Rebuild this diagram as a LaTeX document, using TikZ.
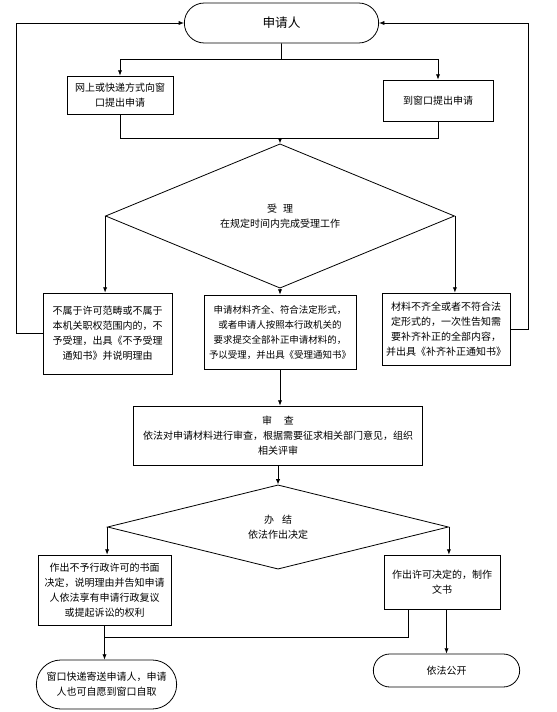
\documentclass[tikz,border=0pt]{standalone}
\usepackage{fontspec}
\newfontfamily\cjk{Noto Sans CJK SC}
\usetikzlibrary{shapes.geometric,shapes.misc,arrows.meta}

\begin{document}
\begin{tikzpicture}[x=0.75pt, y=-0.75pt, line width=0.6pt,
        box/.style={draw, align=center, inner sep=1pt,
                    font=\cjk\fontsize{7.5}{11.25}\selectfont},
        term/.style={draw, rounded rectangle, align=center, inner sep=1pt,
                     font=\cjk\fontsize{7.5}{11}\selectfont},
        dec/.style={draw, diamond, align=center, inner sep=0pt,
                    font=\cjk\fontsize{7.5}{11.25}\selectfont},
        arr/.style={-{Latex[length=4pt,width=3.2pt]}}
    ]
        \useasboundingbox (0,0) rectangle (556,712);
        \node[term, minimum width=147.75pt, minimum height=30pt,
              font=\cjk\fontsize{9.5}{11}\selectfont] (app) at (281.5,23) {申请人};
        \node[box, minimum width=79.5pt, minimum height=28.5pt] (web) at (120,95)
            {网上或快递方式向窗\\口提出申请};
        \node[box, minimum width=82.5pt, minimum height=30.75pt] (desk) at (438,100.5)
            {到窗口提出申请};
        \coordinate (split) at (281.5,59);
        \coordinate (join) at (280,138);
        \node[dec, minimum width=261.75pt, minimum height=54pt] (accept) at (280,216)
            {受\hspace{0.6em}理\\在规定时间内完成受理工作};
        \node[box, minimum width=96.75pt, minimum height=60.75pt] (refuse) at (107.5,333.5)
            {不属于许可范畴或不属于\\本机关职权范围内的，不\\予受理，出具《不予受理\\通知书》并说明理由};
        \node[box, minimum width=114pt, minimum height=55.5pt,
              font=\cjk\fontsize{7.1}{11.25}\selectfont] (admit) at (280,332)
            {申请材料齐全、符合法定形式，\\或者申请人按照本行政机关的\\要求提交全部补正申请材料的，\\予以受理，并出具《受理通知书》};
        \node[box, minimum width=96pt, minimum height=54pt] (supply) at (446,329)
            {材料不齐全或者不符合法\\定形式的，一次性告知需\\要补齐补正的全部内容，\\并出具《补齐补正通知书》};
        \node[box, minimum width=216.75pt, minimum height=44.25pt] (review) at (278,435.5)
            {审\hspace{1.2em}查\\依法对申请材料进行审查，根据需要征求相关部门意见，组织\\相关评审};
        \node[dec, minimum width=255.75pt, minimum height=49.5pt] (decide) at (278,527)
            {办\hspace{0.8em}结\\依法作出决定};
        \node[box, minimum width=99.75pt, minimum height=52.5pt] (deny) at (104.5,590)
            {作出不予行政许可的书面\\决定，说明理由并告知申请\\人依法享有申请行政复议\\或提起诉讼的权利};
        \node[box, minimum width=87pt, minimum height=40.5pt] (grant) at (442,582)
            {作出许可决定的，制作\\文书};
        \node[term, minimum width=107.25pt, minimum height=36.75pt] (send) at (106.5,684.5)
            {窗口快递寄送申请人，申请\\人也可自愿到窗口自取};
        \node[term, minimum width=111.75pt, minimum height=24.75pt] (public) at (446.5,670.5)
            {依法公开};
        \coordinate (merge) at (104.5,637);
        \draw (app) -- (split);
        \draw[arr] (split) -| (web); \draw[arr] (split) -| (desk);
        \draw (web) |- (join); \draw (desk) |- (join);
        \draw[arr] (join) -- (accept);
        \draw[arr] (accept.west) -- (accept.west |- refuse.north);
        \draw[arr] (accept) -- (admit);
        \draw[arr] (accept.east) -- (accept.east |- supply.north);
        \draw[arr] (refuse.west) -- ++(-26,0) |- (app.west);
        \draw[arr] (supply.east) -- ++(18,0) |- (app.east);
        \draw[arr] (admit.south) -- (admit.south |- review.north);
        \draw[arr] (review) -- (decide);
        \draw[arr] (decide.west) -- (decide.west |- deny.north);
        \draw[arr] (decide.east) -- (decide.east |- grant.north);
        \draw[arr] (deny.south) -- (deny.south |- send.north);
        \draw ([xshift=-25.5pt]grant.south) |- (merge);
        \draw[arr] (public |- grant.south) -- (public);
    \end{tikzpicture}
\end{document}
